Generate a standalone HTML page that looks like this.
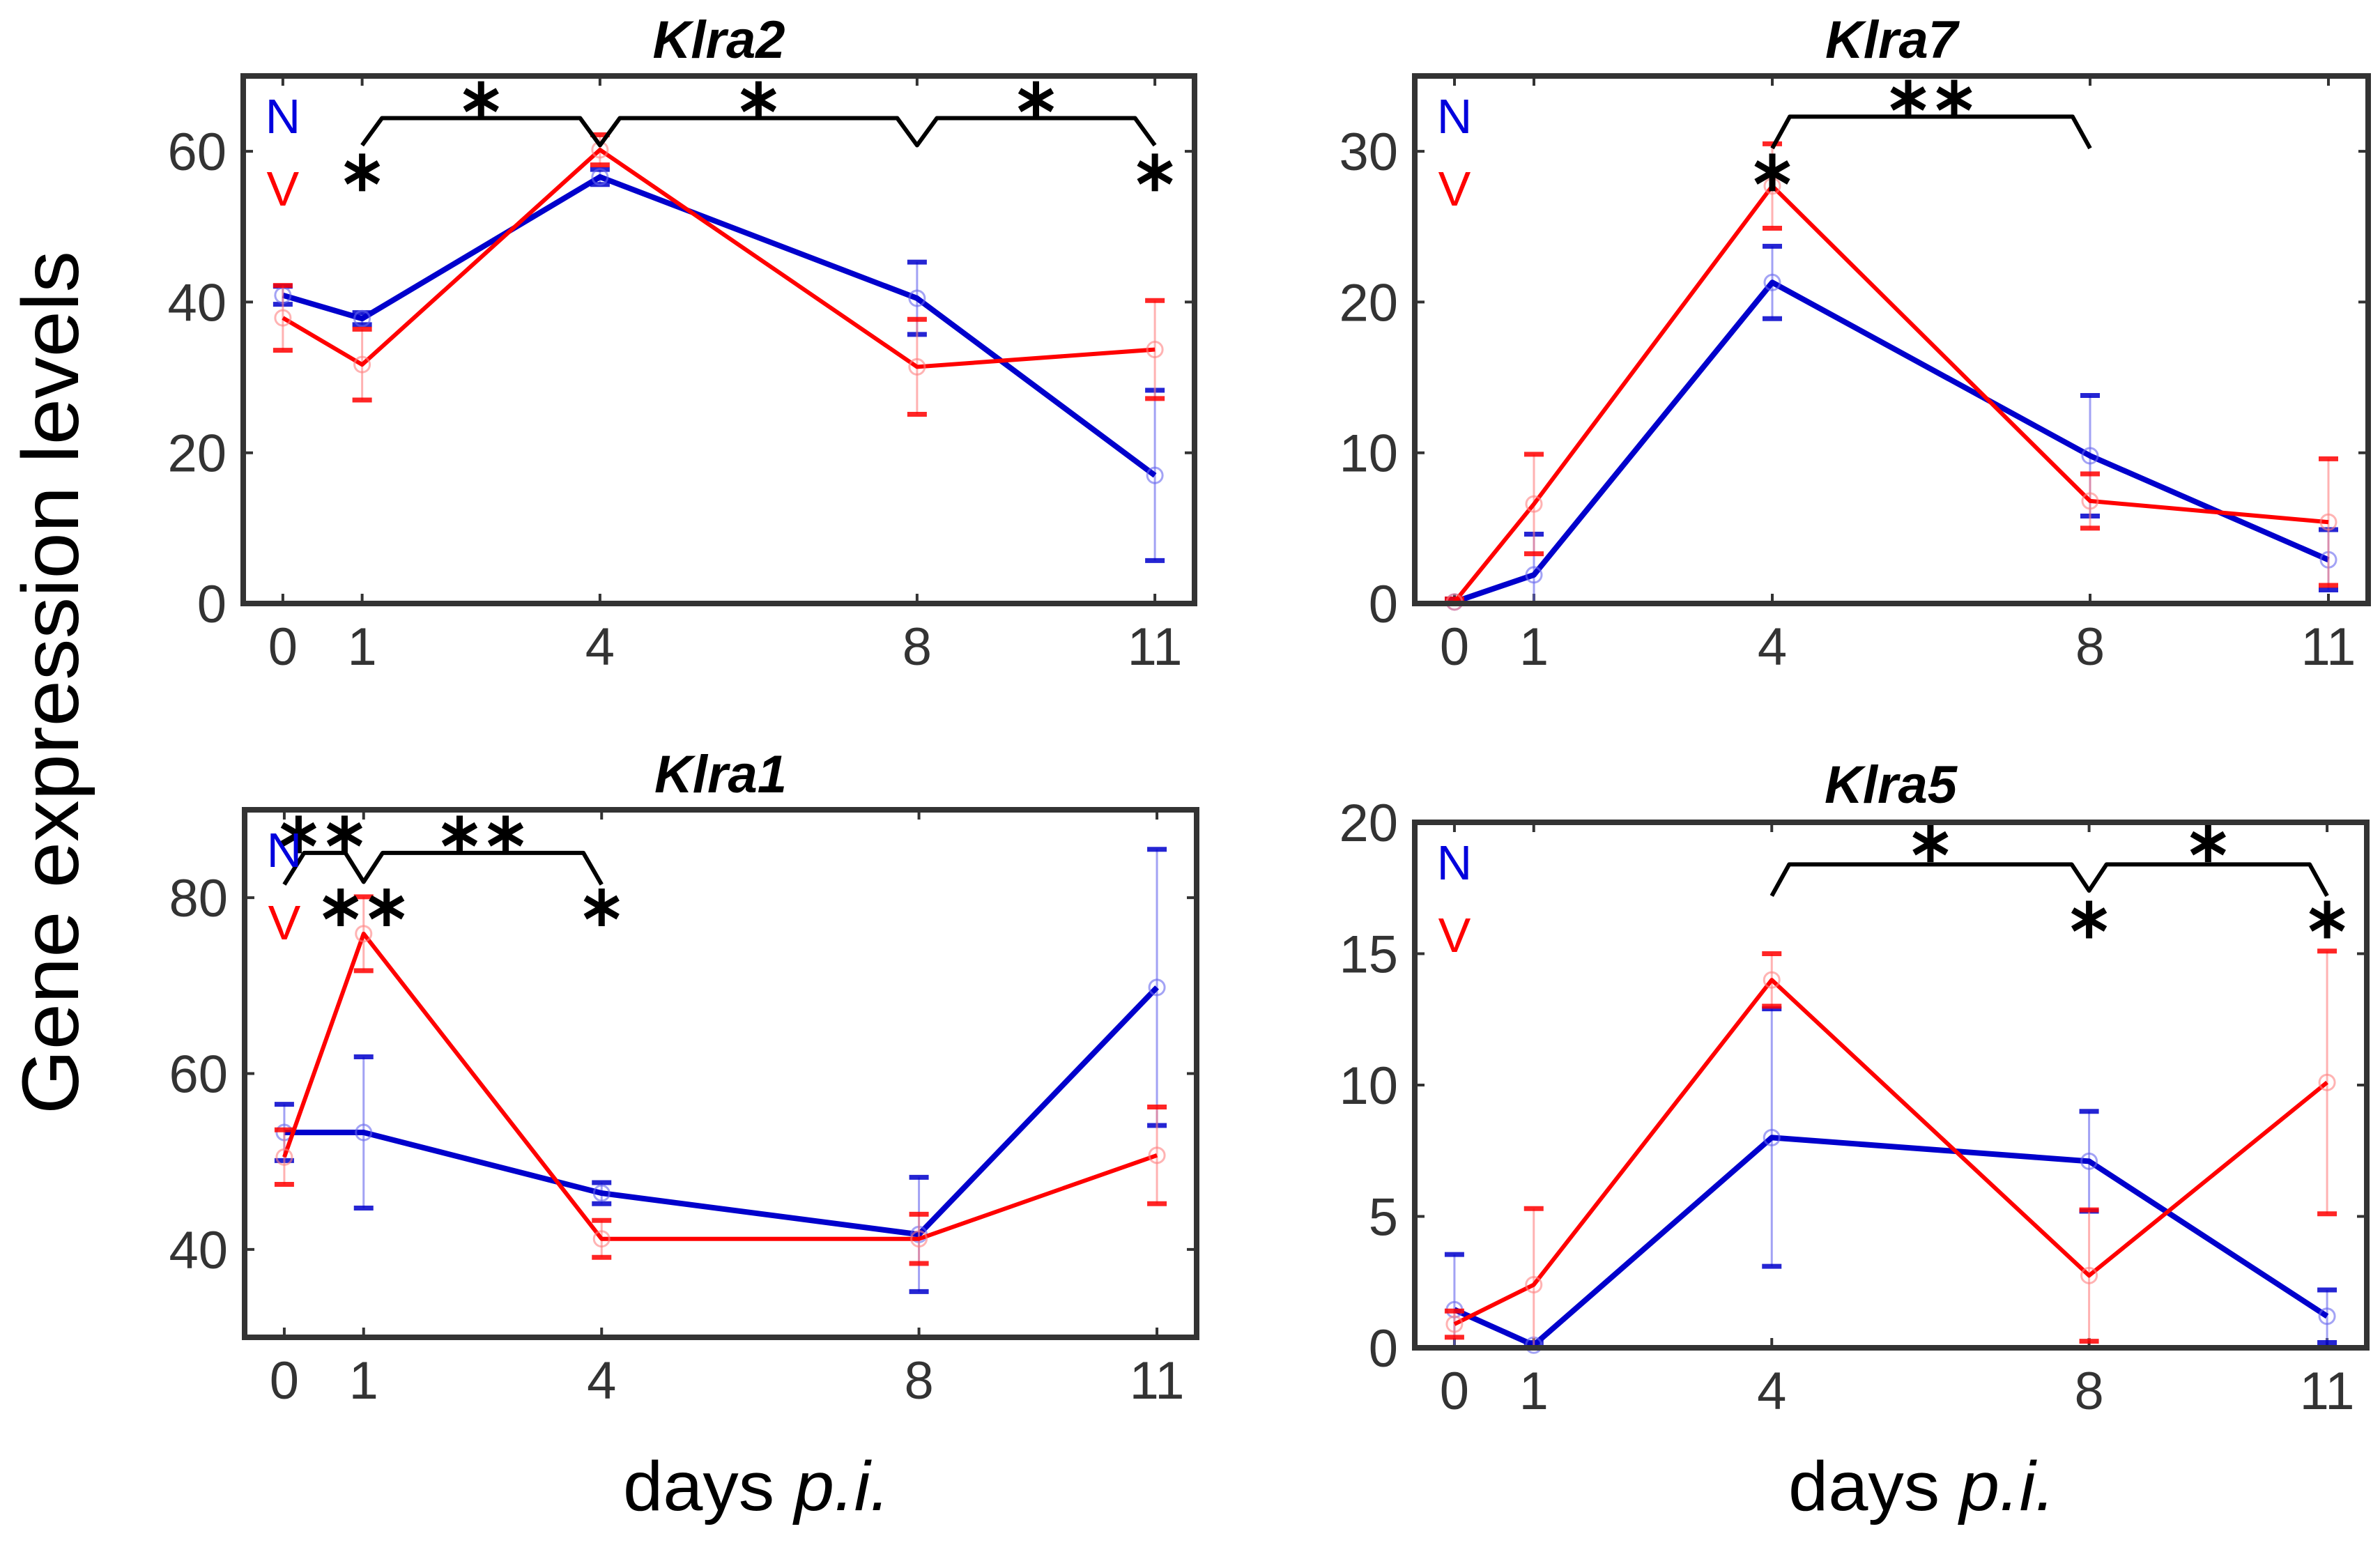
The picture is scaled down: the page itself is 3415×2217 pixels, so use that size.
<!DOCTYPE html>
<html><head><meta charset="utf-8"><title>Klra gene expression</title>
<style>html,body{margin:0;padding:0;background:#fff}svg{display:block}text{font-family:"Liberation Sans",sans-serif}</style>
</head><body>
<svg id="chart" xmlns="http://www.w3.org/2000/svg" width="3415" height="2217" viewBox="0 0 3415 2217">
<rect x="0" y="0" width="3415" height="2217" fill="#fff"/>
<text transform="translate(112,1599) rotate(-90)" font-size="115" textLength="1239" lengthAdjust="spacingAndGlyphs" fill="#000">Gene expression levels</text>
<text x="894" y="2167" font-size="100" textLength="383" lengthAdjust="spacingAndGlyphs" fill="#000">days <tspan font-style="italic">p.i.</tspan></text>
<text x="2566" y="2167" font-size="100" textLength="383" lengthAdjust="spacingAndGlyphs" fill="#000">days <tspan font-style="italic">p.i.</tspan></text>
</svg>
<script>
const days = [0, 1, 4, 8, 11];
const klra2N = [40.9, 37.8, 56.6, 40.5, 17.0];
const klra2NErr = [1.2, 0.8, 1.0, 4.8, 11.3];
const klra2V = [37.9, 31.7, 60.2, 31.4, 33.7];
const klra2VErr = [4.3, 4.7, 2.0, 6.3, 6.5];
const klra7N = [0.1, 1.9, 21.3, 9.8, 2.9];
const klra7NErr = [0.2, 2.7, 2.4, 4.0, 2.0];
const klra7V = [0.1, 6.6, 27.7, 6.8, 5.4];
const klra7VErr = [0.2, 3.3, 2.8, 1.8, 4.2];
const klra1N = [53.3, 53.3, 46.4, 41.7, 69.8];
const klra1NErr = [3.2, 8.6, 1.2, 6.5, 15.7];
const klra1V = [50.5, 75.9, 41.2, 41.2, 50.7];
const klra1VErr = [3.1, 4.2, 2.1, 2.8, 5.5];
const klra5N = [1.45, 0.1, 8.0, 7.1, 1.2];
const klra5NErr = [2.1, 0.1, 4.9, 1.9, 1.0];
const klra5V = [0.9, 2.4, 14.0, 2.75, 10.1];
const klra5VErr = [0.5, 2.9, 1.0, 2.5, 5.0];
const klra2Ticks = [0, 20, 40, 60];
const klra7Ticks = [0, 10, 20, 30];
const klra1Ticks = [40, 60, 80];
const klra5Ticks = [0, 5, 10, 15, 20];

const NS = "http://www.w3.org/2000/svg";
const svg = document.getElementById('chart');
function mk(tag, attrs, parent) {
  const e = document.createElementNS(NS, tag);
  for (const k in attrs) e.setAttribute(k, attrs[k]);
  (parent || svg).appendChild(e);
  return e;
}

const panels = [
  {id:'klra2', title:'Klra2', x0:349, x1:1714, y0:109, y1:866, ymin:0, ymax:70, ticks:klra2Ticks, N:klra2N, NE:klra2NErr, V:klra2V, VE:klra2VErr, titleY:83,
   bracket:[[1,60.8],[1.25,64.4],[3.75,64.4],[4,60.8],[4.25,64.4],[7.75,64.4],[8,60.8],[8.25,64.4],[10.75,64.4],[11,60.8]],
   stars:[[2.5,66.8,1],[6,66.8,1],[9.5,66.8,1],[1,57.2,1],[11,57.2,1]]},
  {id:'klra7', title:'Klra7', x0:2030, x1:3398, y0:109, y1:866, ymin:0, ymax:35, ticks:klra7Ticks, N:klra7N, NE:klra7NErr, V:klra7V, VE:klra7VErr, titleY:83,
   bracket:[[4,30.2],[4.22,32.3],[7.78,32.3],[8,30.2]],
   stars:[[4,28.6,1],[6,33.5,2]]},
  {id:'klra1', title:'Klra1', x0:351, x1:1717, y0:1162, y1:1919, ymin:30, ymax:90, ticks:klra1Ticks, N:klra1N, NE:klra1NErr, V:klra1V, VE:klra1VErr, titleY:1137,
   bracket:[[0,81.5],[0.25,85.1],[0.77,85.1],[1,81.8],[1.24,85.1],[3.77,85.1],[4,81.5]],
   stars:[[0.47,87.2,2],[2.5,87.2,2],[1,78.9,2],[4,78.9,1]]},
  {id:'klra5', title:'Klra5', x0:2030, x1:3396, y0:1180, y1:1934, ymin:0, ymax:20, ticks:klra5Ticks, N:klra5N, NE:klra5NErr, V:klra5V, VE:klra5VErr, titleY:1152,
   bracket:[[4,17.2],[4.22,18.4],[7.78,18.4],[8,17.4],[8.22,18.4],[10.78,18.4],[11,17.2]],
   stars:[[6,19.2,1],[9.5,19.2,1],[8,16.3,1],[11,16.3,1]]}
];

function star(g, cx, cy, r) {
  for (let a = 0; a < 3; a++) {
    const ang = Math.PI / 2 + a * Math.PI / 3;
    const dx = Math.cos(ang) * r, dy = Math.sin(ang) * r;
    const l = mk('line', {x1: cx - dx, y1: cy - dy, x2: cx + dx, y2: cy + dy, stroke: '#000', 'stroke-width': 9}, g);
    
    
  }
}

panels.forEach(p => {
  const sx = d => p.x0 + (d + 0.5) / 12 * (p.x1 - p.x0);
  const sy = v => p.y1 - (v - p.ymin) / (p.ymax - p.ymin) * (p.y1 - p.y0);
  const g = mk('g', {});
  
  

  const t = mk('text', {x: (p.x0 + p.x1) / 2, y: p.titleY, 'font-size': 76, 'font-weight': 'bold', 'font-style': 'italic', 'text-anchor': 'middle', fill: '#000'}, g);
  t.textContent = p.title;
  
  

  days.forEach(d => {
    const x = sx(d);
    const tk = mk('path', {d: `M${x},${p.y1} v-14 M${x},${p.y0} v14`, stroke: '#333', 'stroke-width': 4}, g);
    
    
    const lb = mk('text', {x: x, y: p.y1 + 88, 'font-size': 76, 'text-anchor': 'middle', fill: '#333'}, g);
    lb.textContent = d;
    
    
  });
  p.ticks.forEach(v => {
    const y = sy(v);
    const tk = mk('path', {d: `M${p.x0},${y} h14 M${p.x1},${y} h-14`, stroke: '#333', 'stroke-width': 4}, g);
    
    
    const lb = mk('text', {x: p.x0 - 24, y: y + 27, 'font-size': 76, 'text-anchor': 'end', fill: '#333'}, g);
    lb.textContent = v;
    
    
  });

  [['N', p.N, p.NE, '#0000cc', '#6666ee', 8], ['V', p.V, p.VE, '#ff0000', '#ff8080', 6]].forEach(s => {
    const [nm, vals, errs, col, light, w] = s;
    vals.forEach((v, i) => {
      const x = sx(days[i]);
      const lo = Math.max(p.ymin, v - errs[i]), hi = v + errs[i];
      const eb = mk('line', {x1: x, y1: sy(lo), x2: x, y2: sy(hi), stroke: light, 'stroke-width': 3, opacity: 0.6}, g);
      
      
      [lo, hi].forEach(b => {
        const cap = mk('line', {x1: x - 14, y1: sy(b), x2: x + 14, y2: sy(b), stroke: col, 'stroke-width': 7, opacity: 0.85}, g);
        
        
      });
    });
    const pts = vals.map((v, i) => sx(days[i]) + ',' + sy(v)).join(' ');
    const pl = mk('polyline', {points: pts, fill: 'none', stroke: col, 'stroke-width': w, 'stroke-linejoin': 'round'}, g);
    
    
    vals.forEach((v, i) => {
      const c = mk('circle', {cx: sx(days[i]), cy: sy(v), r: 11, fill: 'none', stroke: light, 'stroke-width': 3, opacity: 0.6}, g);
      
      
    });
  });

  const bp = p.bracket.map((q, i) => (i ? 'L' : 'M') + sx(q[0]) + ',' + sy(q[1])).join(' ');
  const br = mk('path', {d: bp, fill: 'none', stroke: '#000', 'stroke-width': 6, 'stroke-linejoin': 'round'}, g);
  
  
  p.stars.forEach(st => {
    const cx = sx(st[0]), cy = sy(st[1]);
    if (st[2] === 1) star(g, cx, cy, 27);
    else { star(g, cx - 33, cy, 27); star(g, cx + 33, cy, 27); }
  });

  const ln = mk('text', {x: sx(0), y: p.y0 + 82, 'font-size': 70, 'text-anchor': 'middle', fill: '#0000dd'}, g);
  ln.textContent = 'N';
  
  
  const lv = mk('text', {x: sx(0), y: p.y0 + 186, 'font-size': 70, 'text-anchor': 'middle', fill: '#ff0000'}, g);
  lv.textContent = 'V';
  
  

  const bx = mk('rect', {x: p.x0, y: p.y0, width: p.x1 - p.x0, height: p.y1 - p.y0, fill: 'none', stroke: '#333', 'stroke-width': 8}, g);
  
  
});
</script>
</body></html>
